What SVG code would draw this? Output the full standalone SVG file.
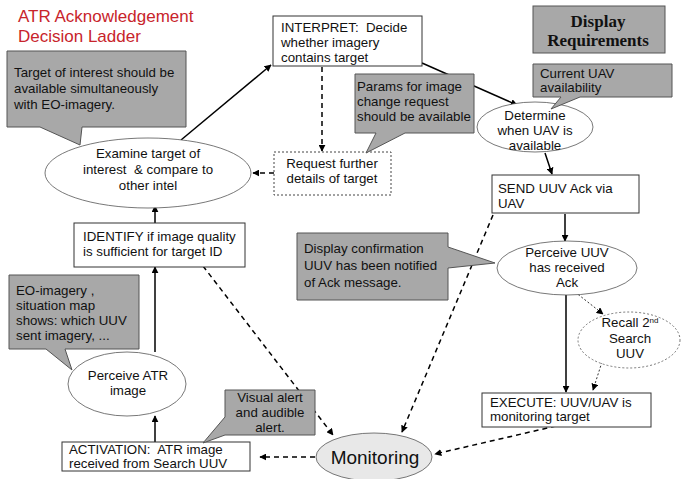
<svg xmlns="http://www.w3.org/2000/svg" width="682" height="479" viewBox="0 0 682 479">
<defs>
<marker id="ah" viewBox="0 0 10 10" refX="9" refY="5" markerWidth="7" markerHeight="7" markerUnits="userSpaceOnUse" orient="auto"><path d="M0,0 L10,5 L0,10 z" fill="#000"/></marker>
<style>
text{font-family:"Liberation Sans",Arial,sans-serif;font-size:13.3px;fill:#111;white-space:pre}
.c{text-anchor:middle}
.box{fill:#fff;stroke:#333;stroke-width:1}
.dot{fill:#fff;stroke:#444;stroke-width:1;stroke-dasharray:2,2}
.ell{fill:#fff;stroke:#555;stroke-width:0.8}
.call{fill:#a8a8a8;stroke:#555;stroke-width:1}
.s{fill:none;stroke:#000;stroke-width:1.5}
.d{fill:none;stroke:#000;stroke-width:1.5;stroke-dasharray:5,4}
.dt{fill:none;stroke:#333;stroke-width:1;stroke-dasharray:2,2}
</style>
</defs>
<rect width="682" height="479" fill="#fff"/>
<g id="title">
<text x="18" y="22" style="font-size:17px;fill:#c8242b">ATR Acknowledgement</text>
<text x="18" y="42" style="font-size:17px;fill:#c8242b">Decision Ladder</text>
</g>
<g id="display-req">
<rect x="533" y="6" width="132" height="47" class="call"/>
<text x="598" y="27" class="c" style="font-family:'Liberation Serif',serif;font-weight:bold;font-size:17px">Display</text>
<text x="598" y="46" class="c" style="font-family:'Liberation Serif',serif;font-weight:bold;font-size:17px">Requirements</text>
</g>
<g id="connectors">
<path d="M181,140 L271,65" class="s" marker-end="url(#ah)"/>
<path d="M422,63 L517,105" class="s" marker-end="url(#ah)"/>
<path d="M322,67 L322,151" class="d" marker-end="url(#ah)"/>
<path d="M274,173 L253,173" class="d" marker-end="url(#ah)"/>
<path d="M545,153 L552,174" class="s" marker-end="url(#ah)"/>
<path d="M565,214 L565,241" class="s" marker-end="url(#ah)"/>
<path d="M566,295 L566,392" class="s" marker-end="url(#ah)"/>
<path d="M575,292 L603,314" class="dt" marker-end="url(#ah)"/>
<path d="M602,362 L593,390" class="dt" marker-end="url(#ah)"/>
<path d="M493,215 L402,432" class="d" marker-end="url(#ah)"/>
<path d="M556,426 L435,454" class="d" marker-end="url(#ah)"/>
<path d="M203,266 L333,435" class="d" marker-end="url(#ah)"/>
<path d="M315,457 L260,457" class="d" marker-end="url(#ah)"/>
<path d="M155,442 L155,416" class="s" marker-end="url(#ah)"/>
<path d="M155,352 L155,267" class="s" marker-end="url(#ah)"/>
<path d="M155,223 L155,206" class="s" marker-end="url(#ah)"/>
</g>
<g id="interpret">
<rect x="273" y="16" width="149" height="50" class="box"/>
<text x="281" y="32">INTERPRET:  Decide</text>
<text x="281" y="47">whether imagery</text>
<text x="281" y="62">contains target</text>
</g>
<g id="request">
<rect x="274" y="152" width="117" height="43" class="dot"/>
<text x="332" y="168" class="c">Request further</text>
<text x="332" y="183" class="c">details of target</text>
</g>
<g id="examine">
<ellipse cx="148" cy="173" rx="103" ry="35" class="ell"/>
<text x="148" y="158" class="c">Examine target of</text>
<text x="148" y="174" class="c">interest  &amp; compare to</text>
<text x="148" y="190" class="c">other intel</text>
</g>
<g id="identify">
<rect x="74" y="223" width="171" height="44" class="box"/>
<text x="83" y="241">IDENTIFY if image quality</text>
<text x="83" y="256">is sufficient for target ID</text>
</g>
<g id="perceive-atr">
<ellipse cx="127" cy="384" rx="59" ry="32" class="ell"/>
<text x="128" y="380" class="c">Perceive ATR</text>
<text x="128" y="395" class="c">image</text>
</g>
<g id="activation">
<rect x="62" y="442" width="188" height="29" class="box"/>
<text x="69" y="454">ACTIVATION:  ATR image</text>
<text x="69" y="468">received from Search UUV</text>
</g>
<g id="monitoring">
<ellipse cx="374" cy="457" rx="58" ry="24" fill="#e8e8e8" stroke="#555" stroke-width="0.8"/>
<text x="375" y="464" class="c" style="font-size:19px">Monitoring</text>
</g>
<g id="determine">
<ellipse cx="535" cy="127" rx="58" ry="25" class="ell"/>
<text x="535" y="120" class="c">Determine</text>
<text x="535" y="135" class="c">when UAV is</text>
<text x="535" y="150" class="c">available</text>
</g>
<g id="send">
<rect x="492" y="175" width="147" height="38" class="box"/>
<text x="498" y="193">SEND UUV Ack via</text>
<text x="498" y="208">UAV</text>
</g>
<g id="perceive-uuv">
<ellipse cx="567" cy="268" rx="70" ry="27" class="ell"/>
<text x="567" y="257" class="c">Perceive UUV</text>
<text x="567" y="272" class="c">has received</text>
<text x="567" y="287" class="c">Ack</text>
</g>
<g id="recall">
<ellipse cx="629" cy="340" rx="51" ry="28" fill="#fff" stroke="#555" stroke-width="0.8" stroke-dasharray="2,2"/>
<text x="630" y="327" class="c">Recall 2<tspan dy="-4" style="font-size:8px">nd</tspan></text>
<text x="630" y="343" class="c">Search</text>
<text x="630" y="358" class="c">UUV</text>
</g>
<g id="execute">
<rect x="482" y="393" width="169" height="34" class="box"/>
<text x="490" y="407">EXECUTE: UUV/UAV is</text>
<text x="490" y="421">monitoring target</text>
</g>
<g id="callout-target">
<path d="M7,51 H186 V127 H82 L80,145 L40,127 H7 Z" class="call"/>
<text x="14" y="77">Target of interest should be</text>
<text x="14" y="93">available simultaneously</text>
<text x="14" y="109">with EO-imagery.</text>
</g>
<g id="callout-params">
<path d="M355,74 H474 V133 H405 L366,153 L376,133 H355 Z" class="call"/>
<text x="357" y="91">Params for image</text>
<text x="357" y="106">change request</text>
<text x="357" y="121">should be available</text>
</g>
<g id="callout-uav">
<path d="M533,64 H672 V97 H580 L551,109 L561,97 H533 Z" class="call"/>
<text x="540" y="78">Current UAV</text>
<text x="540" y="92">availability</text>
</g>
<g id="callout-confirm">
<path d="M297,233 H448 V247 L495,263 L448,268 V300 H297 Z" class="call"/>
<text x="304" y="253">Display confirmation</text>
<text x="304" y="270">UUV has been notified</text>
<text x="304" y="287">of Ack message.</text>
</g>
<g id="callout-eo">
<path d="M9,275 H139 V349 H65 L72,370 L46,349 H9 Z" class="call"/>
<text x="16" y="295">EO-imagery ,</text>
<text x="16" y="310">situation map</text>
<text x="16" y="325">shows: which UUV</text>
<text x="16" y="340">sent imagery, ...</text>
</g>
<g id="callout-alert">
<path d="M225,390 H315 V435 H225 L203,443 L225,417 Z" class="call"/>
<text x="270" y="402" class="c">Visual alert</text>
<text x="270" y="417" class="c">and audible</text>
<text x="270" y="432" class="c">alert.</text>
</g>
</svg>
